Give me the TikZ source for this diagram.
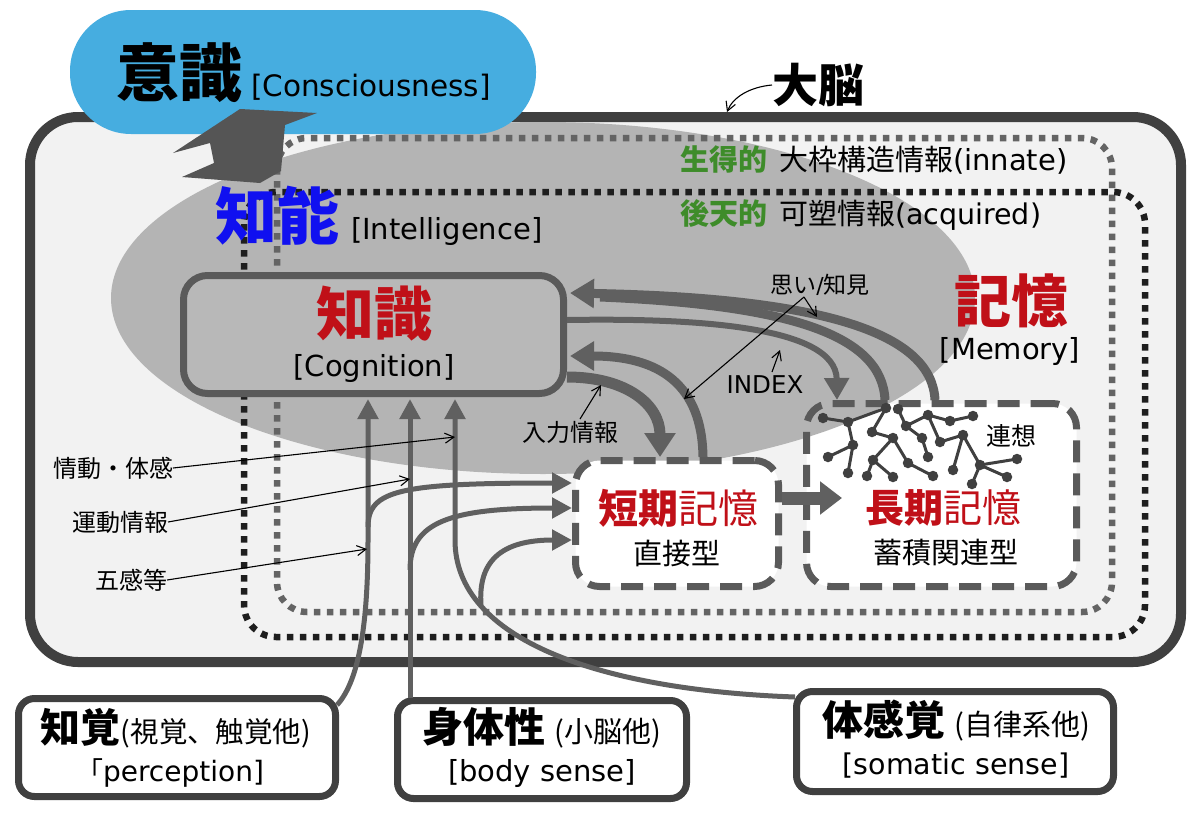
\documentclass[tikz,border=0pt]{standalone}
\usepackage{fontspec}
\setmainfont{Noto Sans CJK JP}
\newfontfamily\lat{DejaVu Sans}
\usetikzlibrary{arrows.meta}
\definecolor{blobblue}{RGB}{70,173,224}
\definecolor{brainfill}{RGB}{242,242,242}
\definecolor{brainline}{RGB}{64,64,64}
\definecolor{ellgray}{RGB}{180,180,180}
\definecolor{kngray}{RGB}{184,184,184}
\definecolor{knline}{RGB}{90,90,90}
\definecolor{flowgray}{RGB}{96,96,96}
\definecolor{dashgray}{RGB}{90,90,90}
\definecolor{dotgraycol}{RGB}{100,100,100}
\definecolor{dotblackcol}{RGB}{30,30,30}
\definecolor{zigcol}{RGB}{85,85,85}
\definecolor{darkred}{RGB}{192,16,24}
\definecolor{iqblue}{RGB}{16,16,240}
\definecolor{innategreen}{RGB}{62,140,42}
\definecolor{netcol}{RGB}{64,64,64}
\newcommand{\setfs}[1]{\fontsize{#1pt}{#1pt}\selectfont}
\begin{document}
\begin{tikzpicture}[x=1pt,y=-1pt,
  txt/.style={inner sep=0pt,outer sep=0pt},
  annot/.style={black,line width=1.1pt,-{Straight Barb[length=9pt,width=10pt]}},
  bigflow/.style={draw=flowgray,line width=9pt,-{Triangle[length=24pt,width=28pt]}},
  vflow/.style={draw=flowgray,line width=5pt,-{Triangle[length=20pt,width=20pt]}},
  membox/.style={draw=dashgray,line width=7pt,dash pattern=on 22pt off 11pt,rounded corners=24pt,inner sep=0pt},
  subjbox/.style={draw=brainline,fill=white,line width=7pt,rounded corners=16pt,inner sep=0pt},
  dotgray/.style={draw=dotgraycol,line width=6.5pt,dash pattern=on 6.5pt off 6.5pt,rounded corners=30pt},
  dotblack/.style={draw=dotblackcol,line width=6.5pt,dash pattern=on 6.5pt off 6.5pt,rounded corners=32pt},
  netedge/.style={draw=netcol,line width=3pt},
  netnode/.style={circle,fill=netcol,inner sep=0pt,minimum size=10.5pt}
]
\useasboundingbox (0,0) rectangle (1200,817);
\fill[white] (0,0) rectangle (1200,817);

% brain box
\node[draw=brainline,fill=brainfill,line width=10pt,rounded corners=48pt,
      minimum width=1151pt,minimum height=545pt,inner sep=0pt] (brain) at (605.5,389.5) {};
% white fill of long-term memory (under the ellipse)
\fill[white,rounded corners=24pt] (806.5,403.5) rectangle (1076.5,586.5);
% intelligence ellipse
\fill[ellgray] (543,298) ellipse [x radius=432pt, y radius=176pt];

% dotted areas
\draw[dotgray] (277,138) rectangle (1112,612);
\draw[dotblack] (244,192) rectangle (1145,637);

% consciousness blob
\node[fill=blobblue,rounded corners=61pt,minimum width=466pt,minimum height=124pt,inner sep=0pt] (blob) at (303,72) {};
% double arrow between consciousness and intelligence
\fill[zigcol] (173,153) -- (240,109) -- (317,113) -- (285,125) -- (281,171) -- (260,183)
   -- (182,177) -- (214,163) -- (210,143) -- cycle;

% titles
\node[txt,anchor=base west] (cons) at (116,96) {{\setfs{63}\bfseries 意識}\hspace{9pt}{\lat\setfs{29.5}[Consciousness]}};
\node[txt,anchor=base west] (intel) at (215,239) {{\setfs{62}\bfseries\color{iqblue}知能}\hspace{12pt}{\lat\setfs{29}[Intelligence]}};
\node[txt] (dn) at (818,85) {\setfs{46}\bfseries 大脳};
\draw[annot] (dn.west) .. controls (750,87) and (733,97) .. (727,112);
\node[txt,anchor=base west] (innate) at (680,170) {{\setfs{29}\bfseries\color{innategreen}生得的}\hspace{12pt}{\setfs{29}大枠構造情報}{\lat\setfs{29}(innate)}};
\node[txt,anchor=base west] (acq) at (680,224) {{\setfs{29}\bfseries\color{innategreen}後天的}\hspace{12pt}{\setfs{29}可塑情報}{\lat\setfs{28.5}(acquired)}};
\node[txt,text=darkred] (memt) at (1011,301) {\setfs{57}\bfseries 記憶};
\node[txt] (memen) at (1010,351) {\lat\setfs{29}[Memory]};

% knowledge box
\node[draw=knline,fill=kngray,line width=7pt,rounded corners=24pt,minimum width=380pt,minimum height=118pt,inner sep=0pt] (kn) at (373.5,334.5) {};
\node[txt,text=darkred] (knt) at (374,314) {\setfs{58}\bfseries 知識};
\node[txt] (knen) at (374,368) {\lat\setfs{29}[Cognition]};

% memory boxes
\node[membox,fill=white,minimum width=203pt,minimum height=126pt] (stm) at (677,523.5) {};
\node[membox,minimum width=270pt,minimum height=183pt] (ltm) at (941.5,495) {};
\node[txt,text=darkred] (stmt) at (678,508) {\setfs{40}{\bfseries 短期}記憶};
\node[txt] (stms) at (677,553) {\setfs{29}直接型};
\node[txt,text=darkred] (ltmt) at (943,508) {\setfs{39}{\bfseries 長期}記憶};
\node[txt] (ltms) at (946,553) {\setfs{29}蓄積関連型};
\node[txt] (assoc) at (1011,436) {\setfs{25}連想};

% short -> long
\coordinate (s2l) at (782,498);
\coordinate (l2s) at (842,498);
\draw[draw=flowgray,line width=13pt,-{Triangle[length=22pt,width=32pt]}] (s2l) -- (l2s);

% association network
\foreach \n/\x/\y in {1/823/418,2/848/422,3/886/408,4/898/409,5/928/415,6/950/421,7/973/416,
  8/872/432,9/906/426,10/893/438,11/922/438,12/940/442,13/963/435,14/853/445,15/828/457,
  16/873/460,17/908/463,18/928/457,19/980/465,20/1017/459,21/867/476,22/893/477,23/933/476,
  24/953/470,25/1007/477,26/972/484,27/848/473}
  {\coordinate (n\n) at (\x,\y);}
\foreach \a/\b in {1/2,2/3,2/14,14/15,14/27,3/8,8/10,10/17,10/16,16/21,16/22,4/9,9/5,9/11,11/18,
  5/6,6/7,5/12,12/13,13/19,13/24,19/20,19/25,19/26,17/23}
  {\draw[netedge] (n\a) -- (n\b);}
\foreach \n in {1,...,27} {\node[netnode] at (n\n) {};}

% flows between knowledge and memory
\coordinate (a1s) at (935,400);
\coordinate (a2s) at (885,400);
\coordinate (a1e) at (570,293);
\coordinate (a2e) at (600,297);
\coordinate (bs) at (567,320);
\coordinate (be) at (837,400);
\coordinate (cs) at (703,457);
\coordinate (ce) at (570,356);
\coordinate (ds) at (567,377);
\coordinate (de) at (660,457);
\draw[draw=flowgray,line width=9pt] (a2s) .. controls (882,335) and (790,305) .. (a2e);
\draw[bigflow] (a1s) .. controls (932,335) and (830,298) .. (a1e);
\draw[draw=flowgray,line width=6pt,-{Triangle[length=22pt,width=24pt]}] (bs) .. controls (690,318) and (836,325) .. (be);
\draw[bigflow] (cs) .. controls (702,385) and (660,356) .. (ce);
\draw[draw=flowgray,line width=11pt,-{Triangle[length=24pt,width=30pt]}] (ds) .. controls (627,377) and (660,405) .. (de);

% annotations of flows
\node[txt] (omoi) at (820,285) {\setfs{23}思い{\lat\setfs{22}/}知見};
\coordinate (omf) at (804,297);
\coordinate (omA) at (817,317);
\coordinate (omC) at (684,399);
\draw[annot] (omf) -- (omA);
\draw[annot] (omf) -- (omC);
\node[txt] (index) at (765,385) {\lat\setfs{24.5}INDEX};
\coordinate (idxf) at (772,372);
\coordinate (idxp) at (780,350);
\draw[annot] (idxf) -- (idxp);
\node[txt] (input) at (570,432) {\setfs{24}入力情報};
\coordinate (inf) at (580,419);
\coordinate (inp) at (601,385);
\draw[annot] (inf) -- (inp);

% subject boxes
\node[subjbox,minimum width=317pt,minimum height=98pt] (perc) at (177,747.5) {};
\node[subjbox,minimum width=289pt,minimum height=98pt] (body) at (542,749.5) {};
\node[subjbox,minimum width=317pt,minimum height=100pt] (soma) at (955,741.5) {};
\node[txt,anchor=base] (perct) at (176,742) {{\setfs{40}\bfseries 知覚}{\setfs{28.5}(視覚、触覚他)}};
\node[txt] (perce) at (170,773) {{\setfs{27}「}{\lat\setfs{28}perception]}};
\node[txt,anchor=base] (bodyt) at (542,742) {{\setfs{41}\bfseries 身体性}\hspace{9pt}{\setfs{29}(小脳他)}};
\node[txt] (bodye) at (542,773) {\lat\setfs{29}[body sense]};
\node[txt,anchor=base] (somat) at (956,735) {{\setfs{41}\bfseries 体感覚}\hspace{9pt}{\setfs{29}(自律系他)}};
\node[txt] (somae) at (956,766) {\lat\setfs{28.5}[somatic sense]};

% flows from the senses
\coordinate (pst) at (337,705);
\coordinate (k1) at (368,399);
\coordinate (bst) at (410,698);
\coordinate (k2) at (410,399);
\coordinate (sst) at (795,697);
\coordinate (k3) at (455,399);
\coordinate (br1) at (368,527);
\coordinate (br2) at (410,570);
\coordinate (br3) at (481,605);
\coordinate (t1) at (572,483);
\coordinate (t2) at (572,508);
\coordinate (t3) at (572,540);
\draw[vflow] (pst) .. controls (360,680) and (368,620) .. (368,540) -- (k1);
\draw[vflow] (bst) -- (k2);
\draw[vflow] (sst) .. controls (600,690) and (455,640) .. (455,540) -- (k3);
\draw[vflow] (br1) .. controls (368,490) and (400,483) .. (t1);
\draw[vflow] (br2) .. controls (410,522) and (450,508) .. (t2);
\draw[vflow] (br3) .. controls (478,562) and (500,540) .. (t3);

% labels of the sense flows
\node[txt] (emo) at (113,468) {\setfs{24}情動・体感};
\node[txt] (motor) at (120,522) {\setfs{24}運動情報};
\node[txt] (five) at (131,580) {\setfs{24}五感等};
\coordinate (emop) at (455,437);
\coordinate (motp) at (410,479);
\coordinate (fivep) at (367,549);
\draw[annot] (emo.east) -- (emop);
\draw[annot] (motor.east) -- (motp);
\draw[annot] (five.east) -- (fivep);
\end{tikzpicture}
\end{document}
